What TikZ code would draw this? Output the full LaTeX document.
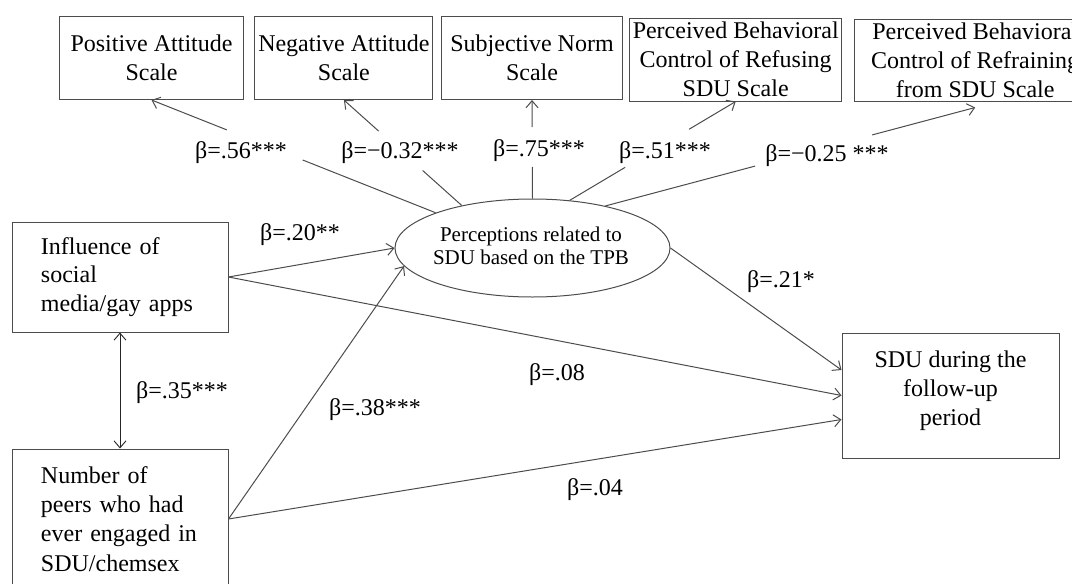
\documentclass[tikz,border=0pt]{standalone}
\usepackage{fontspec}
\setmainfont{Liberation Serif}
\usetikzlibrary{arrows.meta,shapes.geometric,calc}
\tikzset{
  bx/.style={draw=black!70, line width=1pt, inner sep=0pt, align=center, font=\fontsize{24}{29}\selectfont, text=black},
  lbx/.style={draw=black!70, line width=1pt, inner xsep=29pt, inner ysep=0pt, text width=158pt, align=left, font=\fontsize{24}{28.5}\selectfont, text=black},
  ln/.style={draw=black!70, line width=1pt},
  ar/.style={ln, -{Straight Barb[length=7pt,width=12pt]}},
  lb/.style={font=\fontsize{24}{29}\selectfont, anchor=base, inner sep=0pt, text=black},
}
\begin{document}
\begin{tikzpicture}[x=1pt,y=-1pt]
\useasboundingbox (0,0) rectangle (1072,584);
\clip (0,0) rectangle (1072,584);
% top boxes
\node[bx, minimum width=184.6pt, minimum height=83pt] (P1) at (151.5,58) {Positive Attitude\\Scale};
\node[bx, minimum width=178pt, minimum height=83pt] (P2) at (343.9,58) {Negative Attitude\\Scale};
\node[bx, minimum width=181pt, minimum height=83pt] (P3) at (532,58) {Subjective Norm\\Scale};
\node[bx, minimum width=212.2pt, minimum height=83pt] (P4) at (735.7,59.5) {Perceived Behavioral\\Control of Refusing\\SDU Scale};
\node[bx, minimum width=241.7pt, minimum height=82pt] (P5) at (975.2,60) {Perceived Behavioral\\Control of Refraining\\from SDU Scale};
% ellipse
\node[draw=black!70, line width=1pt, ellipse, minimum width=275pt, minimum height=98pt, inner sep=0pt] (E) at (532.5,248) {};
\node[align=center, inner sep=0pt, font=\fontsize{21}{23.5}\selectfont] (Et) at (531,246) {Perceptions related to\\SDU based on the TPB};
% left boxes
\node[lbx, minimum height=110pt] (INF) at (120,277) {Influence of\\social\\media/gay apps};
\node[lbx, minimum height=140pt, font=\fontsize{24}{29.3}\selectfont] (NUM) at (120,519) {Number of\\peers who had\\ever engaged in\\SDU/chemsex};
% outcome box
\node[bx, minimum width=217pt, minimum height=125pt] (SDU) at (950.5,395.5) {};
\node[align=center, inner sep=0pt, font=\fontsize{24}{29}\selectfont] (SDUt) at (950.5,390.5) {SDU during the\\follow-up\\period};
% gap coordinates
\coordinate (g1a) at ($(E.160)!0.468!(P1.south)$);
\coordinate (g1b) at ($(E.160)!0.735!(P1.south)$);
\coordinate (g2a) at ($(E.149)!0.332!(P2.south)$);
\coordinate (g2b) at ($(E.149)!0.705!(P2.south)$);
\coordinate (g3a) at ($(E.north)!0.322!(P3.south)$);
\coordinate (g3b) at ($(E.north)!0.724!(P3.south)$);
\coordinate (g4a) at ($(E.52)!0.334!(P4.south)$);
\coordinate (g4b) at ($(E.52)!0.719!(P4.south)$);
\coordinate (t5) at ([yshift=-6pt]P5.south);
\coordinate (g5a) at ($(E.30)!0.405!(t5)$);
\coordinate (g5b) at ($(E.30)!0.7215!(t5)$);
% connectors to top boxes
\draw[ln] (E.160) -- (g1a); \draw[ar] (g1b) -- (P1.south);
\draw[ln] (E.149) -- (g2a); \draw[ar] (g2b) -- (P2.south);
\draw[ln] (E.north) -- (g3a); \draw[ar] (g3b) -- (P3.south);
\draw[ln] (E.52) -- (g4a); \draw[ar] (g4b) -- (P4.south);
\draw[ln] (E.30) -- (g5a); \draw[ar] (g5b) -- (t5);
% labels top
\node[lb] (L56) at (241,158) {β=.56***};
\node[lb] (L32) at (400,158) {β=−0.32***};
\node[lb] (L75) at (539,156) {β=.75***};
\node[lb] (L51) at (665,158) {β=.51***};
\node[lb] (L25) at (827,161) {β=−0.25 ***};
% other connectors
\draw[ar] (INF.east) -- (E.west);
\draw[ar] (INF.east) -- (SDU.west);
\draw[ar] (E.east) -- ([yshift=25.5pt]SDU.west);
\draw[ar] (NUM.east) -- (E.188);
\draw[ar] (NUM.east) -- ([yshift=-24pt]SDU.west);
\draw[ln, line width=0.9pt, draw=black!85, {Straight Barb[length=7pt,width=12pt]}-{Straight Barb[length=7pt,width=12pt]}] (INF.south) -- (NUM.north);
% other labels
\node[lb] (L20) at (300,240) {β=.20**};
\node[lb] (L35) at (182,398) {β=.35***};
\node[lb] (L38) at (375,415) {β=.38***};
\node[lb] (L08) at (557,380) {β=.08};
\node[lb] (L21) at (781,287) {β=.21*};
\node[lb] (L04) at (595,495) {β=.04};
\end{tikzpicture}
\end{document}
